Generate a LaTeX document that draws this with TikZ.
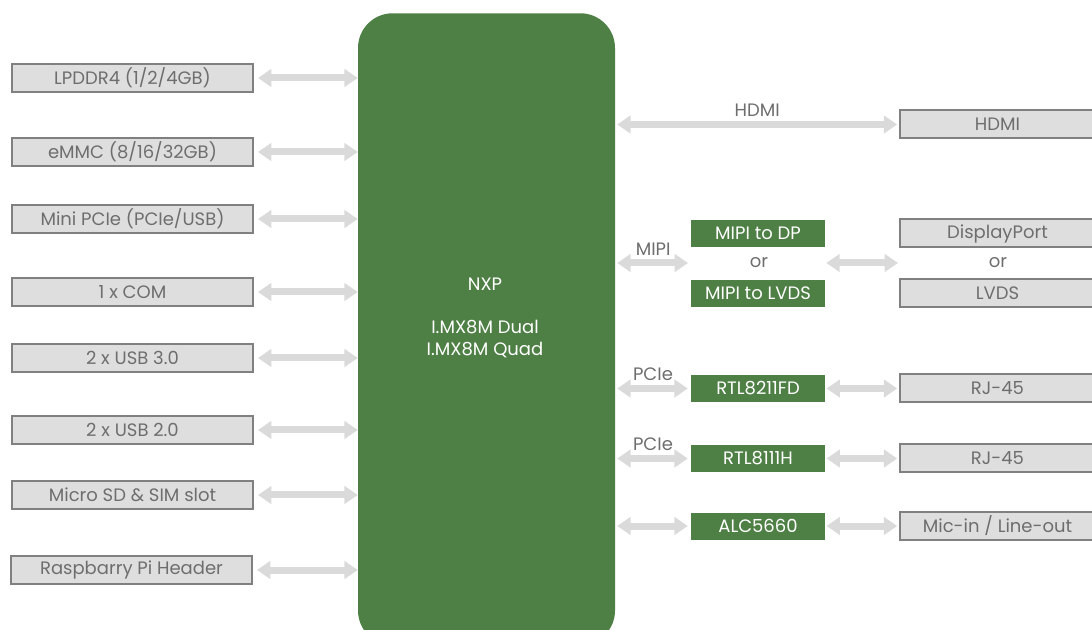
\documentclass[tikz,border=0pt]{standalone}
\usepackage{fontspec}
\setmainfont{Poppins}
\usetikzlibrary{arrows.meta,calc}
\definecolor{nxpgreen}{RGB}{78,128,69}
\definecolor{boxfill}{RGB}{221,222,221}
\definecolor{boxline}{RGB}{128,128,128}
\definecolor{txtgray}{RGB}{110,110,110}
\definecolor{arrgray}{RGB}{218,218,218}
\tikzset{
  graybox/.style={draw=boxline, line width=1.5pt, fill=boxfill, text=txtgray,
    minimum height=21pt, inner sep=0pt, font=\fontsize{13.5}{16}\selectfont},
  leftbox/.style={graybox, minimum width=180.75pt},
  rightbox/.style={graybox, minimum width=146pt},
  chipbox/.style={fill=nxpgreen, text=white, minimum width=100.5pt,
    minimum height=20.25pt, inner sep=0pt, font=\fontsize{13.5}{16}\selectfont},
  plain/.style={text=txtgray, inner sep=0pt, font=\fontsize{13.5}{16}\selectfont},
  conn/.style={draw=arrgray, line width=5.25pt,
    {Triangle[width=13pt,length=10pt]}-{Triangle[width=13pt,length=10pt]}},
}
\begin{document}
\begin{tikzpicture}[x=0.75pt,y=-0.75pt]
\useasboundingbox (0,0) rectangle (1092,630);
\clip (0,0) rectangle (1092,630);
% main SoC
\node[fill=nxpgreen, rounded corners=26pt, minimum width=192.75pt,
  minimum height=474pt, inner sep=0pt, anchor=north] (nxp) at (486.5,13) {};
\node[text=white, align=center, font=\fontsize{13.5}{16.5}\selectfont] (nxpt) at (485,284)
  {NXP};
\node[text=white, align=center, font=\fontsize{13.5}{16.5}\selectfont] (nxpm) at (485,339)
  {I.MX8M Dual\\I.MX8M Quad};
% left side
\node[leftbox] (l1) at (132.5,78) {LPDDR4 (1/2/4GB)};
\node[leftbox] (l2) at (132.5,152) {eMMC (8/16/32GB)};
\node[leftbox] (l3) at (132.5,219) {Mini PCIe (PCIe/USB)};
\node[leftbox] (l4) at (132.5,292) {1 x COM};
\node[leftbox] (l5) at (132.5,358) {2 x USB 3.0};
\node[leftbox] (l6) at (132.5,430) {2 x USB 2.0};
\node[leftbox] (l7) at (132.5,495) {Micro SD \& SIM slot};
\node[leftbox] (l8) at (131.5,570) {Raspbarry Pi Header};
\foreach \n in {l1,l2,l3,l4,l5,l6,l7,l8}
  \draw[conn, shorten <=3pt] (\n.east) -- (\n.east -| nxp.west);
% right side
\node[rightbox] (hdmi) at (997.5,124.5) {HDMI};
\draw[conn, shorten <=1.5pt, shorten >=1.5pt] (hdmi.west -| nxp.east) -- (hdmi.west)
  node[plain, pos=0.5, above=3pt] (hdmil) {HDMI};

\node[chipbox] (mdp) at (758,233.5) {MIPI to DP};
\node[plain] (or1) at (759,263) {or};
\node[chipbox] (mlv) at (758,293.5) {MIPI to LVDS};
\node[rightbox] (dp) at (997.5,233.5) {DisplayPort};
\node[plain] (or2) at (998,263) {or};
\node[rightbox] (lvds) at (997.5,293) {LVDS};
\coordinate (mipil) at (691,263);
\coordinate (mipir) at (825,263);
\coordinate (dispc) at (900,263);
\draw[conn, shorten <=1.5pt, shorten >=2.25pt] (mipil -| nxp.east) -- (mipil)
  node[plain, pos=0.5, above=3pt] (mipit) {MIPI};
\draw[conn, shorten <=1pt, shorten >=1.5pt] (mipir) -- (dispc);

\node[chipbox] (rtl1) at (758,388.5) {RTL8211FD};
\node[rightbox] (rj1) at (997.5,388.5) {RJ-45};
\draw[conn, shorten <=1.5pt, shorten >=2.25pt] (rtl1.west -| nxp.east) -- (rtl1.west)
  node[plain, pos=0.5, above=3pt] (p1) {PCIe};
\draw[conn, shorten <=1pt, shorten >=1.5pt] (rtl1.east) -- (rj1.west);

\node[chipbox] (rtl2) at (758,458.5) {RTL8111H};
\node[rightbox] (rj2) at (997.5,458.5) {RJ-45};
\draw[conn, shorten <=1.5pt, shorten >=2.25pt] (rtl2.west -| nxp.east) -- (rtl2.west)
  node[plain, pos=0.5, above=3pt] (p2) {PCIe};
\draw[conn, shorten <=1pt, shorten >=1.5pt] (rtl2.east) -- (rj2.west);

\node[chipbox] (alc) at (758,526) {ALC5660};
\node[rightbox] (mic) at (997.5,526) {Mic-in / Line-out};
\draw[conn, shorten <=1.5pt, shorten >=2.25pt] (alc.west -| nxp.east) -- (alc.west);
\draw[conn, shorten <=1pt, shorten >=1.5pt] (alc.east) -- (mic.west);
\end{tikzpicture}
\end{document}
